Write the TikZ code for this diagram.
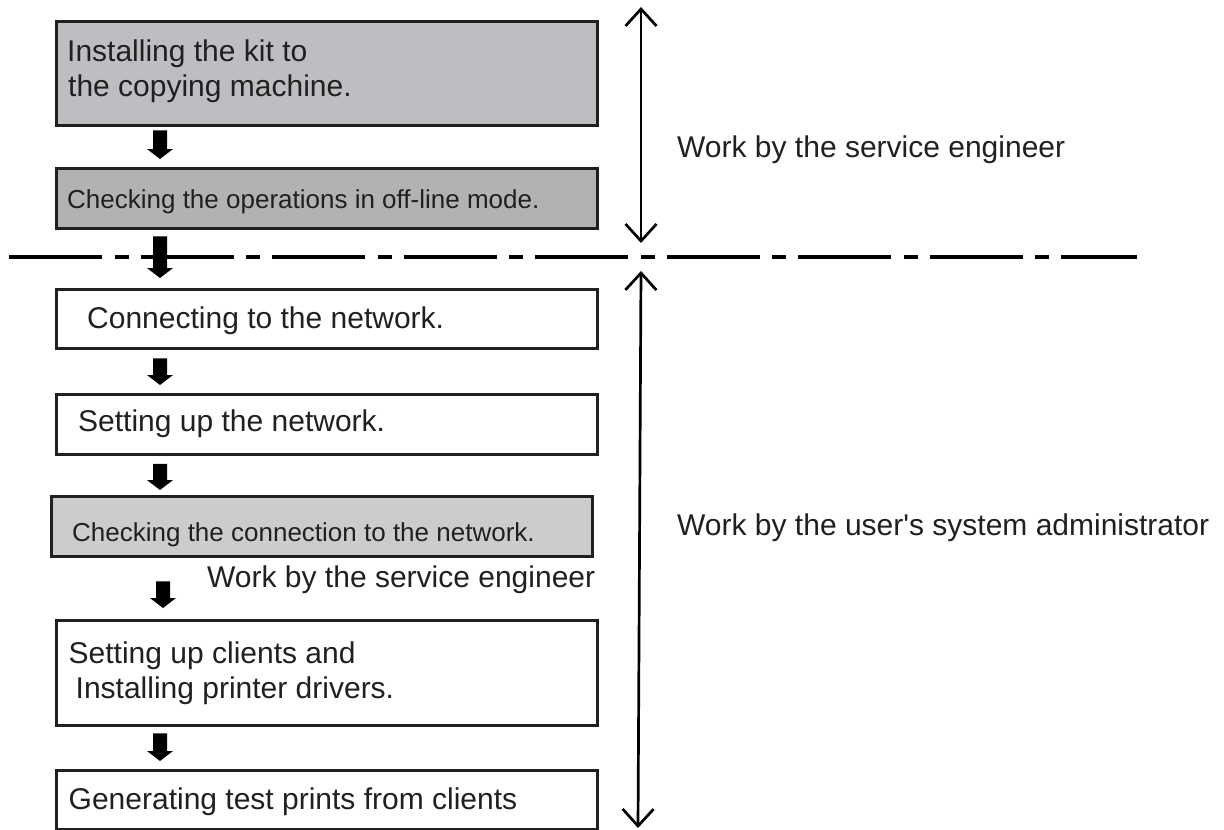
\documentclass[tikz,border=0pt]{standalone}
\usepackage{fontspec}
\setmainfont{Liberation Sans}
\newfontfamily\plainsans{Liberation Sans}
\usetikzlibrary{arrows.meta,calc}

\definecolor{ink}{HTML}{231F20}
\definecolor{greyA}{HTML}{BDBEC1}
\definecolor{greyB}{HTML}{B2B2B3}
\definecolor{greyC}{HTML}{CBCCCE}

\tikzset{
  stepbox/.style={draw=ink, line width=3.4pt, inner sep=0pt, anchor=north west},
  bigtxt/.style={anchor=base west, inner sep=0pt, text=ink, font=\plainsans\fontsize{30}{36}\selectfont},
  smalltxt/.style={anchor=base west, inner sep=0pt, text=ink, font=\plainsans\fontsize{26}{31}\selectfont},
  arrowfill/.style={fill=black},
  span/.style={draw=black, line width=2.7pt, {Straight Barb[length=17pt,width=31pt]}-{Straight Barb[length=17pt,width=31pt]}},
  divider/.style={draw=black, line width=3.4pt, dash pattern=on 93pt off 12.5pt on 14pt off 12pt}
}

% block arrow from the bottom of box #1 to the top of box #2, at x = #3 (pt),
% leaving gaps #4 (top) and #5 (bottom)
\newcommand\blockarrow[5]{%
  \fill[arrowfill] let \p1=(#1.south), \p2=(#2.north) in
    (#3pt-7pt,\y1-#4pt) -- (#3pt+7pt,\y1-#4pt) -- (#3pt+7pt,\y2+#5pt+10pt)
    -- (#3pt+13pt,\y2+#5pt+10pt) -- (#3pt,\y2+#5pt) -- (#3pt-13pt,\y2+#5pt+10pt)
    -- (#3pt-7pt,\y2+#5pt+10pt) -- cycle;%
}

\begin{document}
\begin{tikzpicture}[x=1pt,y=-1pt]
\useasboundingbox (0,0) rectangle (1224,830);

% process boxes
\node[stepbox, fill=greyA, minimum width=541pt, minimum height=104pt] (b1) at (54.5,19.5) {};
\node[stepbox, fill=greyB, minimum width=541pt, minimum height=60pt]  (b2) at (54.5,167) {};
\node[stepbox, fill=white, minimum width=541pt, minimum height=59.5pt] (b3) at (54.5,287.5) {};
\node[stepbox, fill=white, minimum width=541pt, minimum height=60pt]  (b4) at (54.5,393) {};
\node[stepbox, fill=greyC, minimum width=541pt, minimum height=60pt]  (b5) at (50,494.5) {};
\node[stepbox, fill=white, minimum width=541pt, minimum height=105.5pt] (b6) at (54.5,618.5) {};
\node[stepbox, fill=white, minimum width=541pt, minimum height=59pt]  (b7) at (54.5,768.5) {};

% box texts
\node[bigtxt]   (t1a) at (67,61)    {Installing the kit to};
\node[bigtxt]   (t1b) at (68,96)    {the copying machine.};
\node[smalltxt] (t2)  at (67,208)   {Checking the operations in off-line mode.};
\node[bigtxt]   (t3)  at (87,328.5) {Connecting to the network.};
\node[bigtxt]   (t4)  at (78,431.5) {Setting up the network.};
\node[smalltxt] (t5)  at (72,541.5) {Checking the connection to the network.};
\node[bigtxt]   (t6a) at (68.5,663)   {Setting up clients and};
\node[bigtxt]   (t6b) at (75.5,698.5) {Installing printer drivers.};
\node[bigtxt]   (t7)  at (68.5,809)   {Generating test prints from clients};
\node[bigtxt]   (tm)  at (207,587)  {Work by the service engineer};

% divider between the two groups of work
\coordinate (dl) at (9,257);
\coordinate (dr) at (1137,257);
\draw[divider] (dl) -- (dr);

% flow arrows
\blockarrow{b1}{b2}{160}{3.5}{8}
\blockarrow{b2}{b3}{160}{6}{9.5}
\blockarrow{b3}{b4}{160}{8}{8}
\blockarrow{b4}{b5}{160}{7.5}{4.5}
\blockarrow{b5}{b6}{163}{23.5}{10.5}
\blockarrow{b6}{b7}{160}{6}{7.5}

% extent of each group of work
\coordinate (u1) at (641,7);
\coordinate (u2) at (641,243);
\coordinate (l1) at (641,271);
\coordinate (l2) at (638,828);
\draw[span] (u1) -- (u2);
\draw[span] (l1) -- (l2);

\node[bigtxt] (r1) at (677,157.5) {Work by the service engineer};
\node[bigtxt] (r2) at (677,535) {Work by the user's system administrator};
\end{tikzpicture}
\end{document}
